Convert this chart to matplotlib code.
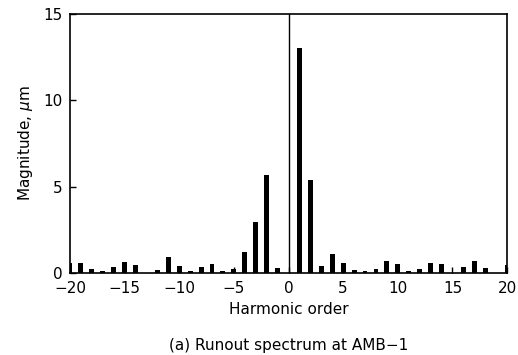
import matplotlib
matplotlib.use("Agg")
import matplotlib.pyplot as plt
import numpy as np

orders = list(range(-20, 21))
magnitude = [0.55, 0.58, 0.23, 0.10, 0.37, 0.62, 0.48, 0.02, 0.17, 0.92,
             0.40, 0.12, 0.33, 0.52, 0.13, 0.23, 1.21, 2.95, 5.68, 0.31,
             0.0,
             13.0, 5.4, 0.39, 1.12, 0.58, 0.17, 0.13, 0.23, 0.67, 0.54,
             0.13, 0.25, 0.60, 0.52, 0.02, 0.33, 0.69, 0.29, 0.0, 0.46]
xticks = [-20, -15, -10, -5, 0, 5, 10, 15, 20]
yticks = [0, 5, 10, 15]

plt.rcParams['font.family'] = ['DejaVu Sans']
fig = plt.figure(figsize=(5.18, 3.55), dpi=100)
ax = fig.add_axes([0.135, 0.231, 0.844, 0.730])
ax.bar(orders, magnitude, width=0.45, color='black')
ax.axvline(0, color='black', linewidth=1.0)
ax.set_xlim(-20, 20)
ax.set_ylim(0, 15)
ax.set_xticks(xticks)
ax.set_xticklabels([str(t).replace('-', '\u2212') for t in xticks])
ax.set_yticks(yticks)
ax.tick_params(direction='in', labelsize=11, length=4, width=1)
ax.tick_params(axis='x', pad=6)
ax.tick_params(axis='y', pad=5)
for s in ax.spines.values():
    s.set_linewidth(1.2)
ax.set_xlabel('Harmonic order', fontsize=11, labelpad=4)
ax.set_ylabel('Magnitude, $\\mu$m', fontsize=11, labelpad=6)
fig.text(0.558, 0.015, '(a) Runout spectrum at AMB\u22121', ha='center', fontsize=11)
fig.savefig('out.png', dpi=100)
